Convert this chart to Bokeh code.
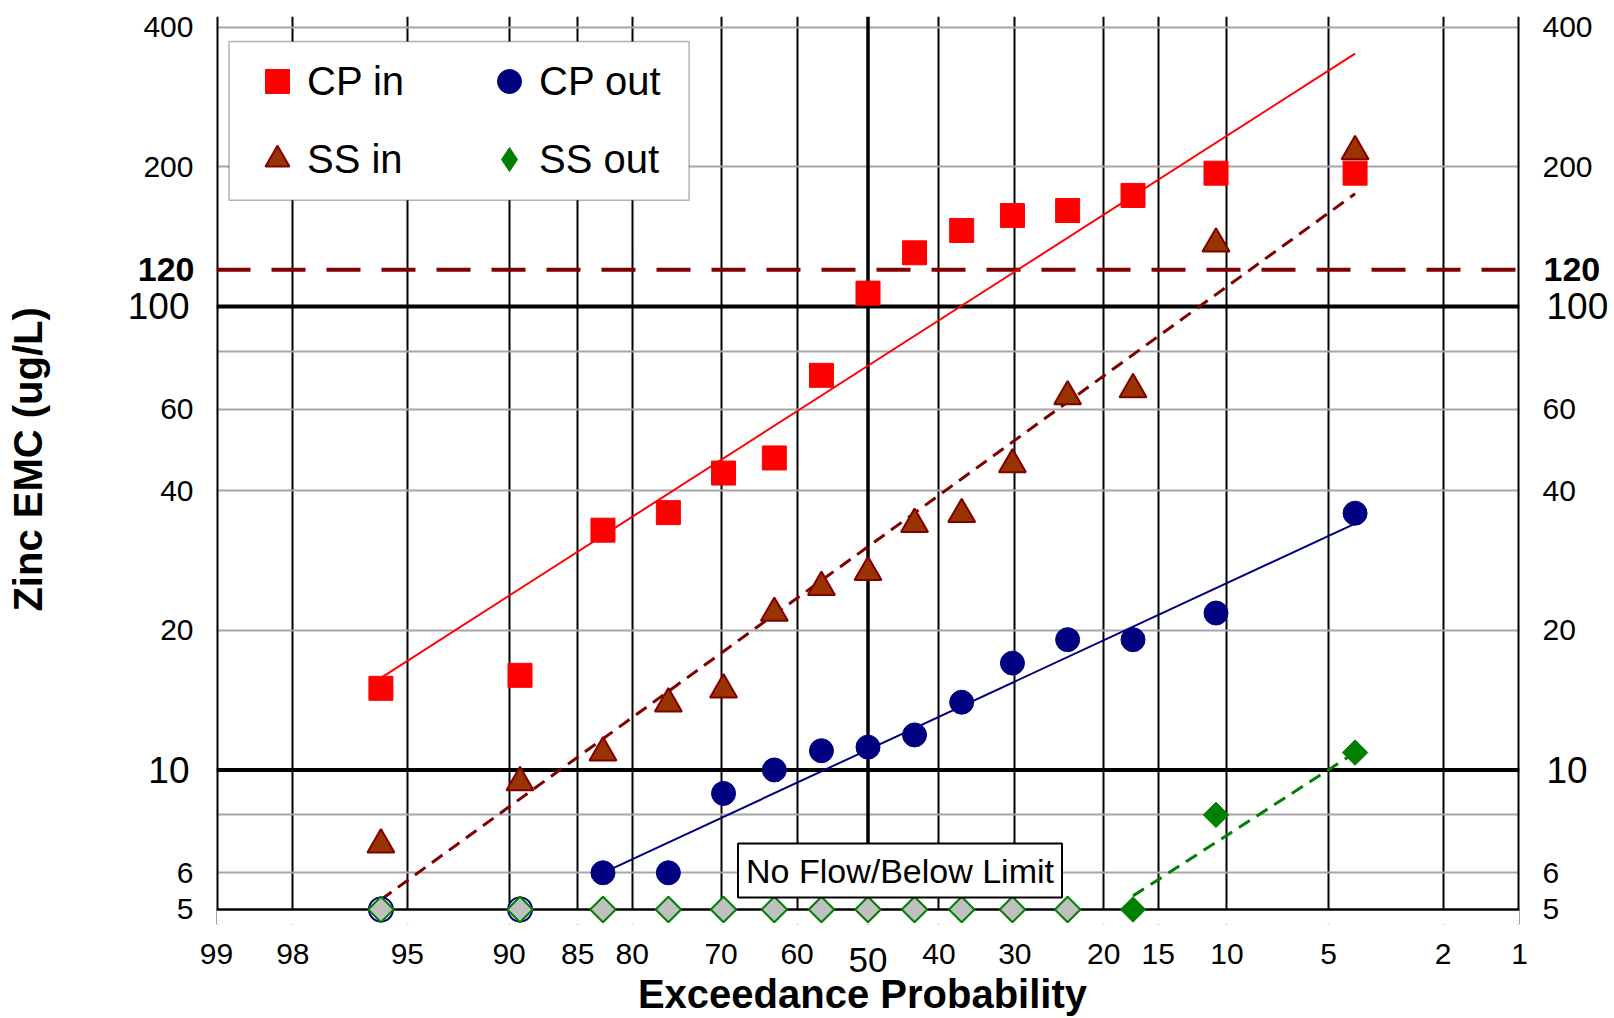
from statistics import NormalDist
from bokeh.plotting import figure
from bokeh.models import (Range1d, LogAxis, LinearAxis, FixedTicker, Span, Label, Legend, LegendItem,
                          BoxAnnotation)
from bokeh.embed import file_html
from bokeh.resources import INLINE

# ---------------- data ----------------
exceed = [95.9, 89.3, 82.8, 76.2, 69.7, 63.1, 56.6, 50.0, 43.4, 36.9, 30.3, 23.8, 17.2, 10.7, 4.1]
cp_in = [15.0, 16.0, 32.9, 35.9, 43.7, 47.1, 71.0, 106.8, 130.5, 145.8, 157.0, 161.0, 173.5, 193.8, 193.8]
cp_out = [5.0, 5.0, 6.0, 6.0, 8.9, 10.0, 11.0, 11.2, 11.9, 14.0, 17.0, 19.1, 19.1, 21.8, 35.8]
cp_out_below = [True, True, False, False, False, False, False, False, False, False, False, False, False, False, False]
ss_in = [6.9, 9.4, 10.9, 13.9, 14.9, 21.8, 24.8, 26.7, 33.9, 35.6, 45.6, 63.9, 66.2, 136.5, 216.0]
ss_out = [5.0, 5.0, 5.0, 5.0, 5.0, 5.0, 5.0, 5.0, 5.0, 5.0, 5.0, 5.0, 5.0, 8.0, 10.9]
ss_out_below = [True, True, True, True, True, True, True, True, True, True, True, True, False, False, False]

cp_in_fit_p = [95.9, 4.1]
cp_in_fit = [15.8, 351.0]
cp_out_fit_p = [82.8, 4.1]
cp_out_fit = [6.0, 34.0]
ss_in_fit_p = [95.9, 4.1]
ss_in_fit = [5.25, 175.0]
ss_out_fit_p = [17.2, 4.1]
ss_out_fit = [5.35, 10.9]

x_tick_probs = [99, 98, 95, 90, 85, 80, 70, 60, 40, 30, 20, 15, 10, 5, 2, 1]
x_tick_labels = ["99", "98", "95", "90", "85", "80", "70", "60", "40", "30", "20", "15", "10", "5", "2", "1"]
x_center_prob = 50
y_tick_vals = [5, 6, 20, 40, 60, 200, 400]
y_big_vals = [10, 100]
y_limit = 120
y_grid_vals = [6, 8, 20, 40, 60, 80, 200, 400]
y_axis_min = 5          # value where the x axis is drawn
y_lo, y_hi = 4.641, 422  # plot range (a little room below the axis for the markers)

FONT = "Liberation Sans"
nd = NormalDist()


def zpos(p):
    return round(nd.inv_cdf(1 - p / 100.0), 4)


x_lo, x_hi = zpos(99), zpos(1)

p = figure(width=1614, height=1018, x_range=Range1d(x_lo, x_hi), y_range=Range1d(y_lo, y_hi),
           y_axis_type="log", output_backend="svg", toolbar_location=None,
           min_border_left=216, min_border_right=95, min_border_top=16, min_border_bottom=93)
p.outline_line_color = None
p.background_fill_color = "white"


def plain(ax, size, standoff, style="normal"):
    ax.axis_line_color = None
    ax.major_tick_line_color = None
    ax.minor_tick_line_color = None
    ax.major_tick_out = 0
    ax.major_tick_in = 0
    ax.minor_tick_out = 0
    ax.minor_tick_in = 0
    ax.major_label_text_font = FONT
    ax.major_label_text_font_size = size
    ax.major_label_text_font_style = style
    ax.major_label_text_color = "black"
    ax.major_label_standoff = standoff


# ---------------- x axes ----------------
xax = p.xaxis[0]
xax.ticker = FixedTicker(ticks=[zpos(v) for v in x_tick_probs])
xax.major_label_overrides = {zpos(v): lab for v, lab in zip(x_tick_probs, x_tick_labels)}
plain(xax, "30px", 19)

xax50 = LinearAxis(ticker=FixedTicker(ticks=[zpos(x_center_prob)]),
                   major_label_overrides={zpos(x_center_prob): str(x_center_prob)})
plain(xax50, "35px", -19)
xax50.axis_label = "Exceedance Probability\u00a0"
xax50.axis_label_text_font = FONT
xax50.axis_label_text_font_style = "bold"
xax50.axis_label_text_font_size = "40px"
xax50.axis_label_text_color = "black"
xax50.axis_label_standoff = -3
p.add_layout(xax50, "below")

# ---------------- y axes (inner -> outer) ----------------
yl = p.yaxis[0]
yr = LogAxis()
p.add_layout(yr, "right")
for ax in (yl, yr):
    ax.ticker = FixedTicker(ticks=y_tick_vals)
    ax.major_label_overrides = {v: str(v) for v in y_tick_vals}
    plain(ax, "30px", 23)

yl120 = LogAxis(ticker=FixedTicker(ticks=[y_limit]), major_label_overrides={y_limit: str(y_limit)})
plain(yl120, "34px", -54, "bold")
p.add_layout(yl120, "left")
yr120 = LogAxis(ticker=FixedTicker(ticks=[y_limit]), major_label_overrides={y_limit: str(y_limit)})
plain(yr120, "34px", -52, "bold")
p.add_layout(yr120, "right")

ylbig = LogAxis(ticker=FixedTicker(ticks=y_big_vals), major_label_overrides={v: str(v) for v in y_big_vals})
plain(ylbig, "37px", -55)
ylbig.axis_label = "\u00a0\u00a0Zinc EMC (ug/L)"
ylbig.axis_label_text_font = FONT
ylbig.axis_label_text_font_style = "bold"
ylbig.axis_label_text_font_size = "40px"
ylbig.axis_label_text_color = "black"
ylbig.axis_label_standoff = 75
p.add_layout(ylbig, "left")
yrbig = LogAxis(ticker=FixedTicker(ticks=y_big_vals), major_label_overrides={v: str(v) for v in y_big_vals})
plain(yrbig, "37px", -57)
p.add_layout(yrbig, "right")

# ---------------- grids & reference lines ----------------
p.xgrid.ticker = FixedTicker(ticks=[zpos(v) for v in x_tick_probs])
p.xgrid.grid_line_color = "black"
p.xgrid.grid_line_width = 2
p.ygrid.ticker = FixedTicker(ticks=y_grid_vals)
p.ygrid.grid_line_color = "#A6A6A6"
p.ygrid.grid_line_width = 2

for v in y_big_vals:
    p.add_layout(Span(location=v, dimension="width", line_color="black", line_width=4, level="underlay"))
p.add_layout(Span(location=zpos(x_center_prob), dimension="height", line_color="black",
                  line_width=3.5, level="underlay"))
for xe in (x_lo, x_hi):
    p.add_layout(Span(location=xe, dimension="height", line_color="black", line_width=4, level="underlay"))
p.add_layout(Span(location=y_limit, dimension="width", line_color="#800000", line_width=4,
                  line_dash="34 21", level="underlay"))
# blank strip under the x axis, then the x axis line itself
p.add_layout(BoxAnnotation(left=x_lo, right=x_hi, bottom=y_lo, top=y_axis_min, fill_color="white",
                           fill_alpha=1.0, line_color=None, level="underlay"))
p.add_layout(Span(location=y_axis_min, dimension="width", line_color="black", line_width=2.5,
                  level="underlay"))

# ---------------- fit lines ----------------
p.line([zpos(v) for v in cp_in_fit_p], cp_in_fit, line_color="#FF0000", line_width=2)
p.line([zpos(v) for v in cp_out_fit_p], cp_out_fit, line_color="#000080", line_width=2)
p.line([zpos(v) for v in ss_in_fit_p], ss_in_fit, line_color="#800000", line_width=3, line_dash="13 8")
p.line([zpos(v) for v in ss_out_fit_p], ss_out_fit, line_color="#008000", line_width=3, line_dash="13 8")

# ---------------- points ----------------
zx = [zpos(v) for v in exceed]

r_cpin = p.scatter(zx, cp_in, marker="square", size=24, fill_color="#FF0000", line_color="#FF0000")
r_ssin = p.scatter(zx, ss_in, marker="triangle", size=27, fill_color="#993300", line_color="#800000",
                   line_width=2)

cpo_h = [(x, v) for x, v, b in zip(zx, cp_out, cp_out_below) if b]
cpo_f = [(x, v) for x, v, b in zip(zx, cp_out, cp_out_below) if not b]
p.scatter([a for a, _ in cpo_h], [b for _, b in cpo_h], marker="circle", size=24,
          fill_color="white", line_color="#000080", line_width=2)
r_cpout = p.scatter([a for a, _ in cpo_f], [b for _, b in cpo_f], marker="circle", size=24,
                    fill_color="#000080", line_color="#000080")

sso_h = [(x, v) for x, v, b in zip(zx, ss_out, ss_out_below) if b]
sso_f = [(x, v) for x, v, b in zip(zx, ss_out, ss_out_below) if not b]
p.scatter([a for a, _ in sso_h], [b for _, b in sso_h], marker="square", angle=0.7854, size=18,
          fill_color="#C0C0C0", line_color="#008000", line_width=2)
p.scatter([a for a, _ in sso_f], [b for _, b in sso_f], marker="square", angle=0.7854, size=18,
          fill_color="#008000", line_color="#008000")
# legend swatch for SS out (diamond shape), not drawn in the plot area
r_ssout_leg = p.scatter([a for a, _ in sso_f], [b for _, b in sso_f], marker="diamond", size=27,
                        fill_color="#008000", line_color="#008000", visible=False)

# ---------------- annotations ----------------
p.add_layout(Label(x=683.5, y=54, x_units="screen", y_units="screen", text="No Flow/Below Limit",
                   text_align="center", text_baseline="middle", text_font=FONT, text_font_size="34px",
                   text_color="black", border_line_color="black", border_line_width=2,
                   background_fill_color="white", padding=8))

p.add_layout(BoxAnnotation(left=12.5, right=472.6, top=883, bottom=724.3,
                           left_units="screen", right_units="screen", top_units="screen",
                           bottom_units="screen", fill_color="white", fill_alpha=1.0,
                           line_color="black", line_width=1.5))

legend = Legend(items=[LegendItem(label="CP in", renderers=[r_cpin]),
                       LegendItem(label="CP out", renderers=[r_cpout]),
                       LegendItem(label="SS in", renderers=[r_ssin]),
                       LegendItem(label="SS out", renderers=[r_ssout_leg])],
                orientation="horizontal", ncols=2, location=(31, 735),
                glyph_width=60, glyph_height=60, label_standoff=0, label_width=154,
                spacing=18, padding=0, border_line_color=None,
                background_fill_alpha=0.0, inactive_fill_alpha=0.0,
                label_text_font=FONT, label_text_font_size="40px", label_text_color="black")
p.add_layout(legend, "center")

open("out.html", "w").write(file_html(p, INLINE))
